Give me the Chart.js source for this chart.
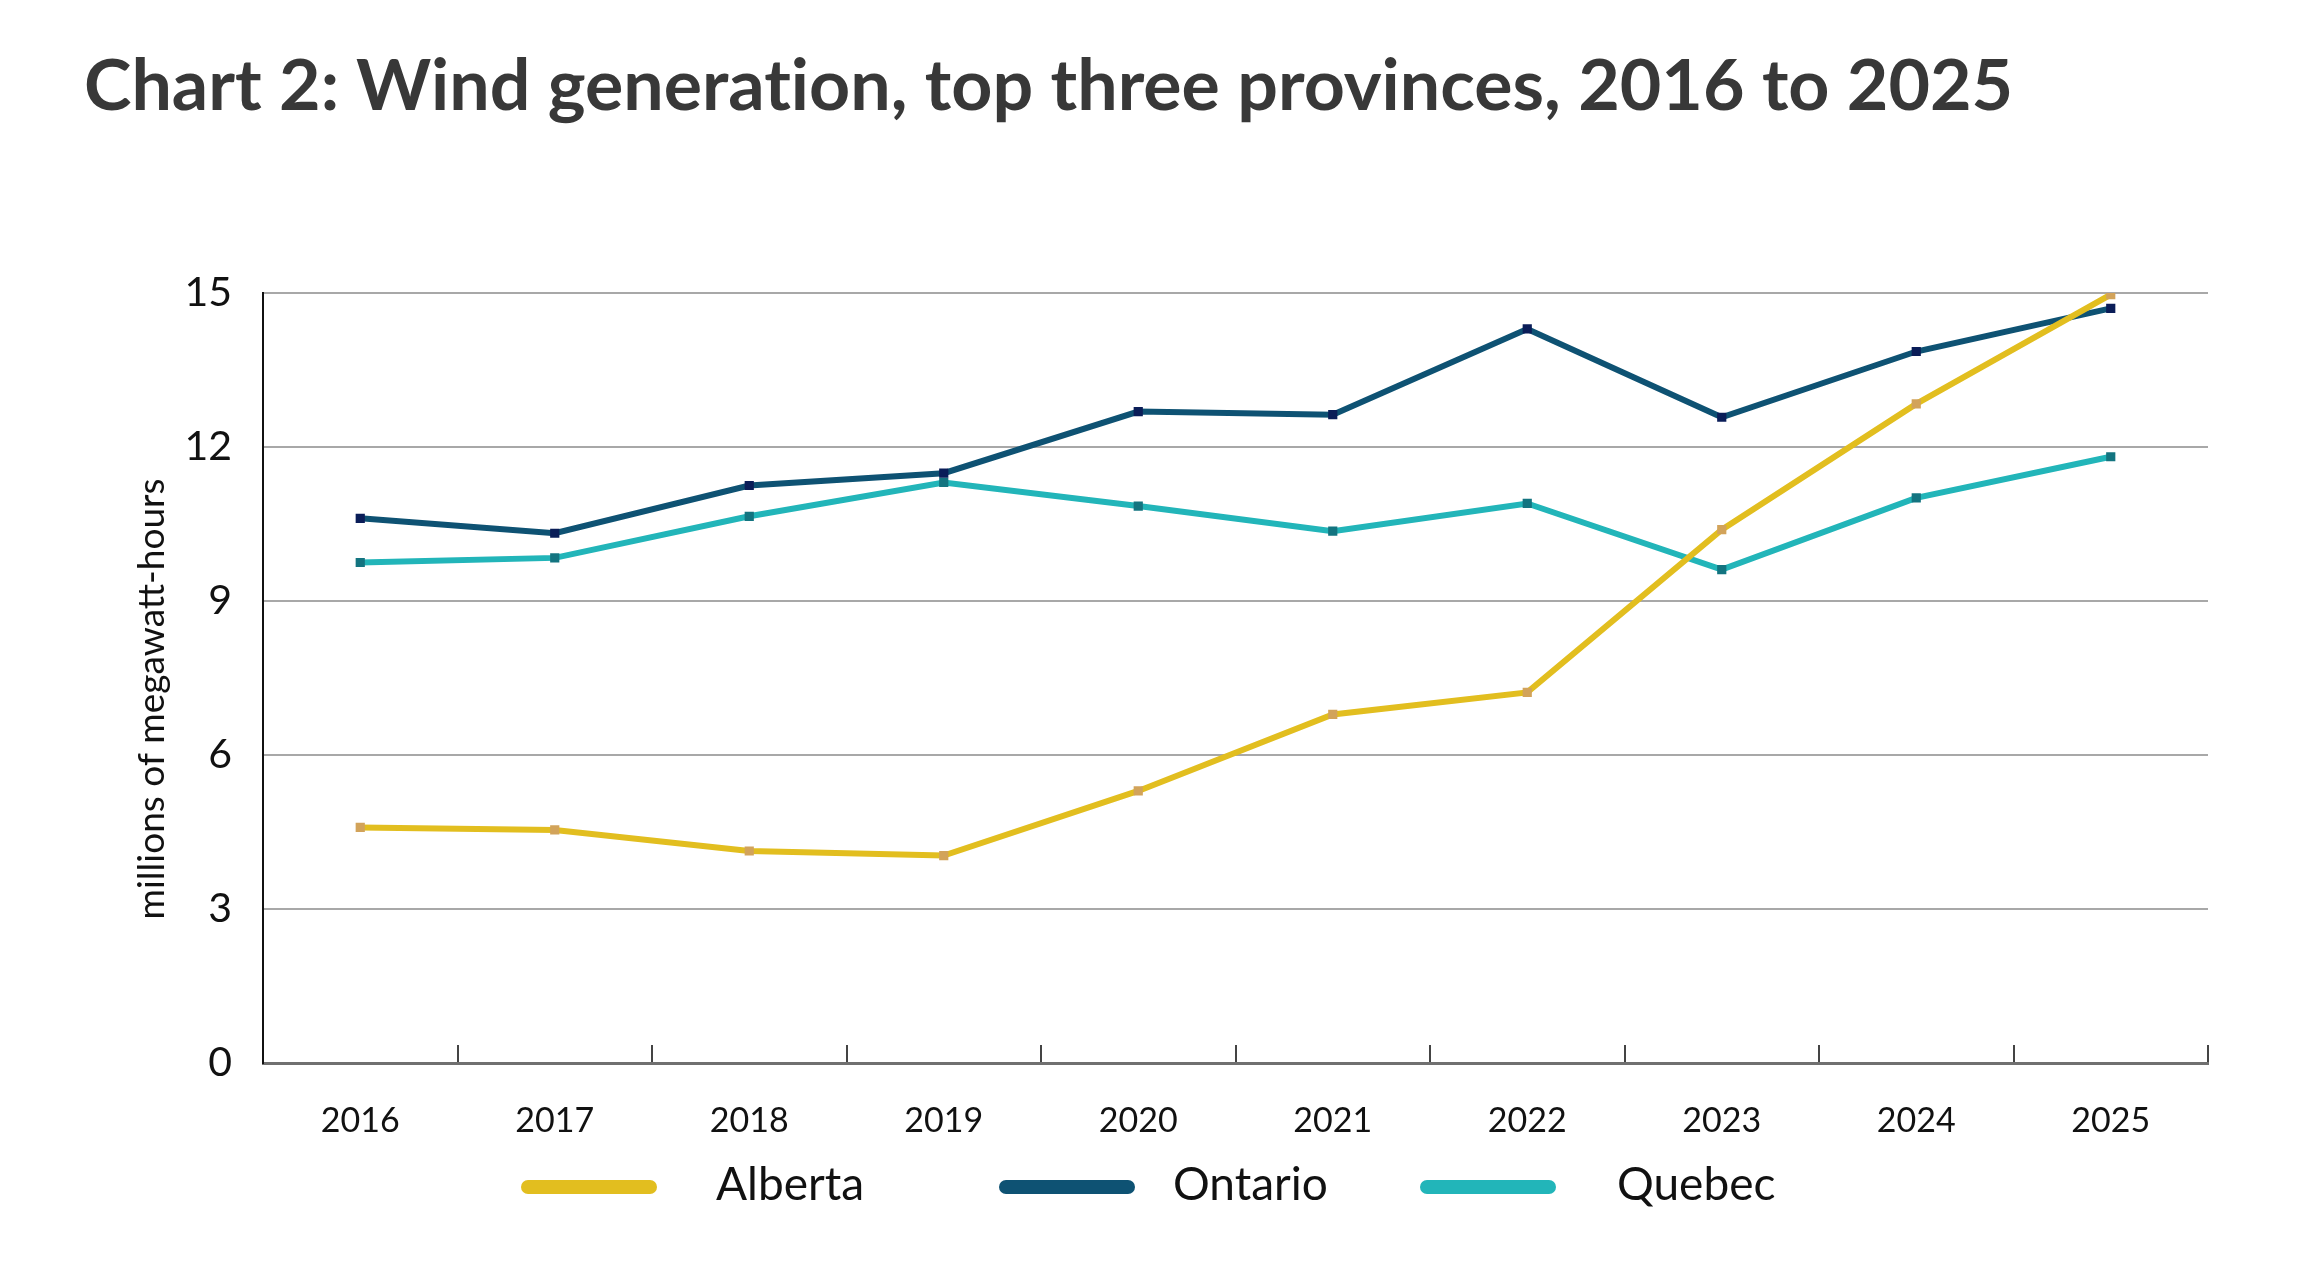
<!DOCTYPE html>
<html>
<head>
<meta charset="utf-8">
<script src="https://cdn.jsdelivr.net/npm/chart.js@4.4.1/dist/chart.umd.min.js"></script>
<style>
  html, body { margin: 0; padding: 0; background: #ffffff; }
  #wrap { position: relative; width: 2320px; height: 1286px; overflow: hidden; }
  #title { position: absolute; left: 84px; top: 39px; margin: 0; font-family: Lato, sans-serif; font-weight: 700; font-size: 71.7px; line-height: 86px; color: #383838; white-space: nowrap; font-variant-ligatures: none; font-feature-settings: "liga" 0, "clig" 0; }
  canvas { position: absolute; left: 0; top: 0; }
</style>
</head>
<body>
<div id="wrap">
  <h1 id="title">Chart 2: Wind generation, top three provinces, 2016 to 2025</h1>
  <canvas id="c" width="2320" height="1286"></canvas>
</div>
<script>
// ---- data ----
const categories = ['2016', '2017', '2018', '2019', '2020', '2021', '2022', '2023', '2024', '2025'];
const alberta = [4.59, 4.54, 4.13, 4.04, 5.30, 6.79, 7.22, 10.39, 12.84, 14.97];
const ontario = [10.61, 10.32, 11.25, 11.49, 12.69, 12.63, 14.30, 12.58, 13.86, 14.70];
const quebec = [9.75, 9.84, 10.65, 11.31, 10.85, 10.36, 10.90, 9.61, 11.01, 11.81];
const seriesNames = ['Alberta', 'Ontario', 'Quebec'];
const yTickValues = [0, 3, 6, 9, 12, 15];
const yAxisTitle = 'millions of megawatt-hours';

// ---- styles ----
const lineColors = ['#e2be1f', '#0e5273', '#22b5b9'];
const pointColors = ['#d2a35a', '#0a1d58', '#137480'];
// legend layout: left of line, left of text (pixels)
const legendLineX = [521, 999, 1420];
const legendTextX = [716, 1173, 1617];

const legendPlugin = {
  id: 'lineLegend',
  afterDraw(chart) {
    const ctx = chart.ctx;
    const lineLen = 136, y = 1187;
    ctx.save();
    ctx.font = '46px Lato, sans-serif';
    chart.data.datasets.forEach((ds, i) => {
      const x = legendLineX[i];
      ctx.strokeStyle = ds.borderColor;
      ctx.lineWidth = 14;
      ctx.lineCap = 'round';
      ctx.beginPath();
      ctx.moveTo(x + 7, y);
      ctx.lineTo(x + lineLen - 7, y);
      ctx.stroke();
      ctx.fillStyle = '#111111';
      ctx.textBaseline = 'middle';
      ctx.textAlign = 'left';
      ctx.fillText(ds.label, legendTextX[i], y - 2);
    });
    ctx.restore();
  }
};

const yTitlePlugin = {
  id: 'yTitle',
  afterDraw(chart) {
    const ctx = chart.ctx;
    const area = chart.chartArea;
    ctx.save();
    ctx.font = '37px Lato, sans-serif';
    ctx.fillStyle = '#111111';
    ctx.textAlign = 'center';
    ctx.textBaseline = 'middle';
    ctx.translate(152, (area.top + area.bottom) / 2 + 21);
    ctx.rotate(-Math.PI / 2);
    ctx.fillText(yAxisTitle, 0, 0);
    ctx.restore();
  }
};

function build() {
  const mk = (i, data) => ({
    label: seriesNames[i],
    data: data,
    borderColor: lineColors[i],
    backgroundColor: lineColors[i],
    borderWidth: 6,
    pointStyle: 'rect',
    pointRadius: 6.5,
    pointBorderWidth: 0,
    pointBackgroundColor: pointColors[i],
    pointHoverRadius: 6.5,
    tension: 0,
    fill: false
  });
  new Chart(document.getElementById('c'), {
    type: 'line',
    data: {
      labels: categories,
      datasets: [mk(0, alberta), mk(1, ontario), mk(2, quebec)]
    },
    options: {
      responsive: false,
      devicePixelRatio: 1,
      animation: false,
      layout: { padding: { left: 0, right: 112, top: 293, bottom: 0 } },
      plugins: {
        legend: { display: false },
        title: { display: false },
        tooltip: { enabled: false }
      },
      scales: {
        x: {
          type: 'category',
          offset: true,
          afterFit(scale) { scale.height = 223; },
          grid: {
            display: true,
            offset: true,
            drawOnChartArea: false,
            drawTicks: true,
            tickLength: -18,
            color: '#444444',
            lineWidth: 2
          },
          border: { display: true, color: '#707070', width: 3 },
          ticks: {
            color: '#111111',
            font: { family: 'Lato', size: 34 },
            padding: 56,
            maxRotation: 0,
            autoSkip: false
          }
        },
        y: {
          min: 0,
          max: 15,
          afterFit(scale) { scale.width = 263; },
          afterBuildTicks(scale) { scale.ticks = yTickValues.map(v => ({ value: v })); },
          grid: {
            color: '#a8a8a8',
            lineWidth: 2,
            drawTicks: false
          },
          border: { display: true, color: '#111111', width: 2 },
          ticks: {
            color: '#111111',
            font: { family: 'Lato', size: 41 },
            padding: 31
          },
          title: { display: false }
        }
      }
    },
    plugins: [legendPlugin, yTitlePlugin]
  });
}

if (document.fonts && document.fonts.load) {
  Promise.all([
    document.fonts.load('40px Lato'),
    document.fonts.load('700 72px Lato')
  ]).then(build, build);
} else {
  build();
}
</script>
</body>
</html>
